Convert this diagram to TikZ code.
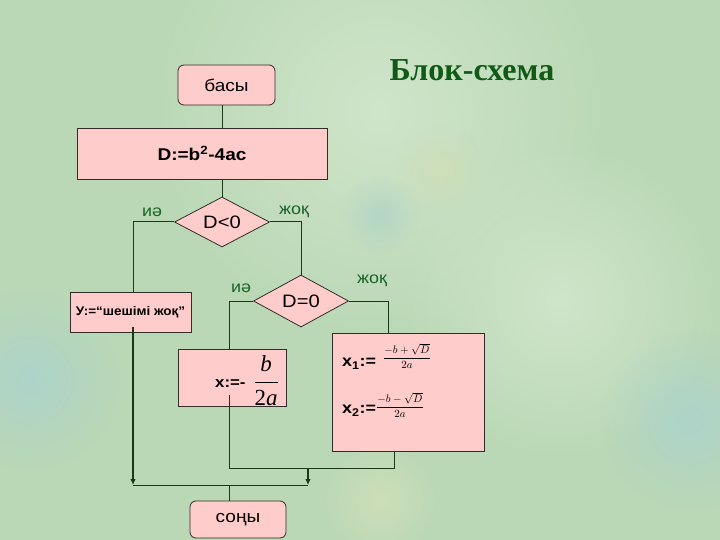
\documentclass[tikz,border=0pt]{standalone}
\usepackage{graphicx}
\usepackage{fontspec}
\setmainfont{Liberation Sans}
\newfontfamily\titlefont{Liberation Serif}
\usetikzlibrary{shapes.geometric,arrows.meta,calc,fadings}
\tikzfading[name=softblob, inner color=transparent!0, outer color=transparent!100]
\definecolor{bg}{RGB}{186,216,182}
\definecolor{bglight}{RGB}{208,229,202}
\definecolor{bgblue}{RGB}{174,212,202}
\definecolor{bgblue2}{RGB}{180,214,198}
\definecolor{bgyel}{RGB}{206,222,184}
\definecolor{boxpink}{RGB}{255,204,204}
\definecolor{edge}{RGB}{50,45,40}
\definecolor{wire}{RGB}{25,55,25}
\definecolor{lab}{RGB}{25,100,40}
\definecolor{ttl}{RGB}{15,90,20}
\newcommand\fsz[1]{\fontsize{#1}{#1}\selectfont}
\newcommand\widetxt[1]{\scalebox{1.12}[1]{#1}}
\begin{document}
\begin{tikzpicture}[x=1pt,y=-1pt,
  proc/.style={draw=edge, fill=boxpink, line width=0.8pt, inner sep=0pt},
  term/.style={proc, rounded corners=6pt},
  dec/.style={proc, diamond, aspect=1.9, minimum width=95, minimum height=50},
  wire/.style={draw=wire, line width=1pt},
  arr/.style={draw=wire, line width=1.6pt, -{Latex[length=6pt,width=5.5pt]}},
  lbl/.style={text=lab, font=\fsz{16}},
  plain/.style={inner sep=0pt}]
\useasboundingbox (0,0) rectangle (720,540);
\fill[bg] (0,0) rectangle (720,540);
\fill[bglight, path fading=softblob] (380,110) circle (230);
\fill[bglight, path fading=softblob] (560,300) circle (160);
\fill[bgblue, path fading=softblob] (30,380) circle (90);
\fill[bgblue, path fading=softblob] (690,420) circle (90);
\fill[bgblue2, path fading=softblob] (380,215) circle (40);
\fill[bgyel, path fading=softblob] (440,170) circle (45);
\fill[bgyel, path fading=softblob] (380,500) circle (60);

% title
\node[plain, text=ttl, font=\titlefont\bfseries\fsz{32}] (title) at (472,70) {Блок-схема};

% nodes
\node[term, minimum width=97, minimum height=40, font=\fsz{17}] (basy) at (226.5,85) {\widetxt{басы}};
\node[proc, minimum width=250, minimum height=51, font=\bfseries\fsz{17}] (dcalc) at (202,153.5) {\widetxt{D:=b\textsuperscript{2}-4ac}};
\node[dec, font=\fsz{18}] (d1) at (222,222) {\widetxt{D<0}};
\node[proc, minimum width=121, minimum height=40, font=\bfseries\fsz{12.5}] (y1) at (130.5,312) {\scalebox{1.08}[1]{У:=“шешімі жоқ”}};
\node[dec, minimum height=52, font=\fsz{18}] (d2) at (301,301) {\widetxt{D=0}};
\node[proc, minimum width=108, minimum height=57] (xb) at (232,377.5) {};
\node[plain, anchor=west, font=\bfseries\fsz{15}] (xlab) at (215,384) {\widetxt{x:=-}};
\node[plain, font=\fsz{23}] (xfrac) at (266,381) {$\displaystyle\frac{\mbox{\titlefont\itshape b}}{\mbox{\titlefont 2\itshape a}}$};
\node[proc, minimum width=152, minimum height=118] (x12) at (408,392) {};
\node[plain, anchor=west, font=\bfseries\fsz{16}] (x1l) at (342,364) {\widetxt{x\textsubscript{1}:=}};
\node[plain, font=\fsz{11}] (x1f) at (407,356) {$\displaystyle\frac{-b+\sqrt{D}}{2a}$};
\node[plain, anchor=west, font=\bfseries\fsz{16}] (x2l) at (342,411) {\widetxt{x\textsubscript{2}:=}};
\node[plain, font=\fsz{11}] (x2f) at (400,405) {$\displaystyle\frac{-b-\sqrt{D}}{2a}$};
\node[term, minimum width=96, minimum height=37, font=\fsz{17}] (soni) at (238,519.5) {\widetxt{соңы}};

% labels
\node[lbl] (l1) at (152,212) {\widetxt{иә}};
\node[lbl] (l2) at (294,212) {\widetxt{жоқ}};
\node[lbl] (l3) at (241,288) {\widetxt{иә}};
\node[lbl] (l4) at (372,281) {\widetxt{жоқ}};

% junction coordinates
\coordinate (xm) at (229,468);
\coordinate (jx) at (308,468);
\coordinate (bl) at (133,485);
\coordinate (br) at (308,485);
\coordinate (bs) at (229,485);

% connectors
\draw[wire] (basy.south -| d1.north) -- (dcalc.north -| d1.north);
\draw[wire] (dcalc.south -| d1.north) -- (d1.north);
\draw[wire] (d1.west) -| ($(y1.north)+(2.5,0)$);
\draw[wire] (d1.east) -| (d2.north);
\draw[wire] (d2.west) -| ($(xb.north)+(-3,0)$);
\draw[wire] (d2.east) -| ($(x12.north)+(-20,0)$);
\draw[wire] ($(x12.south)+(-14,0)$) |- (xm) -- ($(xb.south)+(-3,-11)$);
\draw[arr] (jx) -- (br);
\draw[arr] ($(y1.south)+(2.5,-5)$) -- (bl);
\draw[wire] (bl) -- (br);
\draw[wire] (bs) -- (soni.north -| bs);
\end{tikzpicture}
\end{document}
